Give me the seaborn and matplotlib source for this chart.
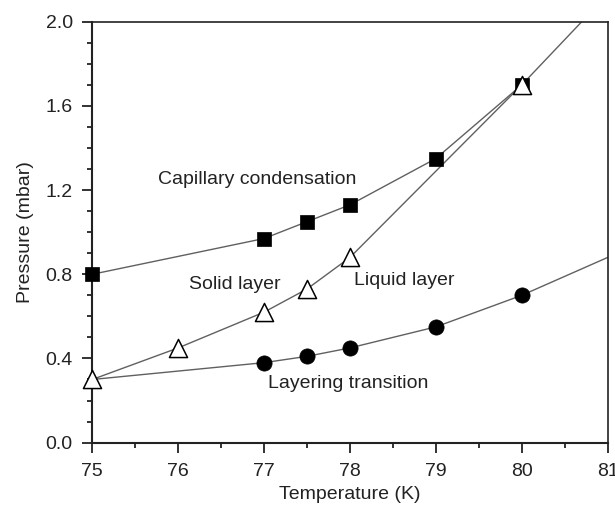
import matplotlib
matplotlib.use("Agg")
import matplotlib.pyplot as plt
import seaborn as sns
from matplotlib.ticker import MultipleLocator, FormatStrFormatter

sns.set_style("ticks")
plt.rcParams["font.family"] = ["Liberation Sans", "DejaVu Sans"]

# Capillary condensation (filled squares)
cap_T = [75, 77, 77.5, 78, 79, 80]
cap_P = [0.80, 0.97, 1.05, 1.13, 1.35, 1.70]

# Solid layer (open triangles)
solid_T = [75, 76, 77, 77.5, 78, 80]
solid_P = [0.30, 0.45, 0.62, 0.73, 0.88, 1.70]
solid_ext_T = [80, 81]
solid_ext_P = [1.70, 2.13]

# Layering transition / liquid layer (filled circles)
liq_T = [77, 77.5, 78, 79, 80]
liq_P = [0.38, 0.41, 0.45, 0.55, 0.70]
liq_line_T = [75, 77, 77.5, 78, 79, 80, 81]
liq_line_P = [0.30, 0.38, 0.41, 0.45, 0.55, 0.70, 0.88]

fig, ax = plt.subplots(figsize=(6.15, 5.07), dpi=100)
fig.subplots_adjust(left=0.15, right=0.988, top=0.957, bottom=0.127)

line_kw = dict(color="#606060", linewidth=1.0, sort=False, legend=False, ax=ax)
sns.lineplot(x=cap_T, y=cap_P, **line_kw)
sns.lineplot(x=solid_T, y=solid_P, **line_kw)
sns.lineplot(x=solid_ext_T, y=solid_ext_P, **line_kw)
sns.lineplot(x=liq_line_T, y=liq_line_P, **line_kw)

sns.scatterplot(x=cap_T, y=cap_P, marker="s", s=100, color="black",
                edgecolor="black", linewidth=0.5, ax=ax, zorder=3, clip_on=False)
sns.scatterplot(x=liq_T, y=liq_P, marker="o", s=120, color="black",
                edgecolor="black", linewidth=0.5, ax=ax, zorder=3, clip_on=False)
sns.scatterplot(x=solid_T, y=solid_P, marker="^", s=170, facecolor="white",
                edgecolor="black", linewidth=1.1, ax=ax, zorder=4, clip_on=False)

ax.set_xlim(75, 81)
ax.set_ylim(0.0, 2.0)
ax.xaxis.set_major_locator(MultipleLocator(1))
ax.xaxis.set_minor_locator(MultipleLocator(0.5))
ax.yaxis.set_major_locator(MultipleLocator(0.4))
ax.yaxis.set_minor_locator(MultipleLocator(0.1))
ax.yaxis.set_major_formatter(FormatStrFormatter("%.1f"))

ax.tick_params(which="major", direction="out", length=7, width=1.3,
               labelsize=14, color="#222222", labelcolor="#222222")
ax.tick_params(which="minor", direction="out", length=3.5, width=1.3,
               color="#222222")
ax.tick_params(axis="x", which="major", pad=8)
ax.tick_params(axis="y", which="major", pad=7)
ax.tick_params(top=False, right=False, which="both")
for side in ["left", "bottom", "top", "right"]:
    ax.spines[side].set_visible(True)
    ax.spines[side].set_color("#222222")
ax.spines["left"].set_linewidth(1.5)
ax.spines["bottom"].set_linewidth(1.5)
ax.spines["top"].set_linewidth(1.2)
ax.spines["right"].set_linewidth(1.2)

ax.set_xlabel("Temperature (K)", fontsize=14, color="#222222", labelpad=4)
ax.set_ylabel("Pressure (mbar)", fontsize=14, color="#222222", labelpad=8)

txt = dict(fontsize=14, color="#222222", va="center")
ax.text(75.76, 1.25, "Capillary condensation", **txt)
ax.text(76.13, 0.75, "Solid layer", **txt)
ax.text(78.05, 0.77, "Liquid layer", **txt)
ax.text(77.05, 0.28, "Layering transition", **txt)

fig.savefig("out.png", dpi=100)
